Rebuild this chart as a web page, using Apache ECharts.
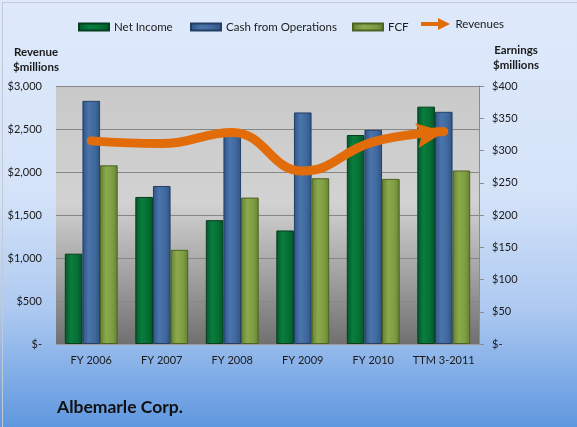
<!DOCTYPE html>
<html>
<head>
<meta charset="utf-8">
<title>Albemarle Corp.</title>
<script src="https://cdn.jsdelivr.net/npm/echarts@6/dist/echarts.min.js"></script>
<style>
  html, body { margin: 0; padding: 0; }
  #chart { width: 577px; height: 427px; }
</style>
</head>
<body>
<div id="chart"></div>
<script>
const categories = ["FY 2006", "FY 2007", "FY 2008", "FY 2009", "FY 2010", "TTM 3-2011"];
const netIncome = [140, 228, 192, 176, 324, 368];
const cashFromOps = [377, 245, 328, 359, 332, 360];
const fcf = [277, 146, 227, 257, 256, 269];
const revenues = [2362, 2331, 2460, 2011, 2350, 2470];
const revenueTicks = [0, 500, 1000, 1500, 2000, 2500, 3000];
const earningsTicks = [0, 50, 100, 150, 200, 250, 300, 350, 400];

const font = "Lato, 'Open Sans', sans-serif";
const textColor = "#1a1a1a";
const orange = "#e36c0a";
const arrowPath = "path://M0,0 L28,12.5 L0,25 L5,12.5 Z";

const money = (v) => (v === 0 ? "$-" : "$" + v.toLocaleString("en-US"));

const barFill = (dark, mid, light) =>
  new echarts.graphic.LinearGradient(0, 0, 1, 0, [
    { offset: 0, color: dark },
    { offset: 0.35, color: light },
    { offset: 0.7, color: mid },
    { offset: 1, color: dark },
  ]);

const barSeries = (name, data, dark, mid, light, border) => ({
  name,
  type: "bar",
  yAxisIndex: 1,
  data,
  barGap: "0%",
  barCategoryGap: "25%",
  itemStyle: {
    color: barFill(dark, mid, light),
    borderColor: border,
    borderWidth: 1,
  },
});

// one legend per entry so each sits where the reference has it
const legendAt = (name, left, extra) => ({
  data: [Object.assign({ name }, extra || {})],
  left,
  top: extra ? 18 : 21,
  padding: 0,
  itemWidth: 30,
  itemHeight: extra ? 12 : 7,
  icon: "rect",
  textStyle: { fontFamily: font, fontSize: 11.5, color: textColor },
});

const chart = echarts.init(document.getElementById("chart"));

// last revenue point carries the arrow head
const revenueData = revenues.map((v, i) =>
  i === revenues.length - 1
    ? {
        value: v,
        symbol: arrowPath,
        symbolSize: [28, 25],
        symbolRotate: 8,
        symbolOffset: [-13, 2],
      }
    : v
);

chart.setOption({
  animation: false,
  backgroundColor: new echarts.graphic.LinearGradient(0, 0, 0, 1, [
    { offset: 0, color: "#deeafb" },
    { offset: 0.45, color: "#d5e3f9" },
    { offset: 0.72, color: "#aecaf1" },
    { offset: 1, color: "#5f97df" },
  ]),
  textStyle: { fontFamily: font, color: textColor },
  title: {
    text: "Albemarle Corp.",
    left: 57,
    top: 398,
    padding: 0,
    textStyle: { fontFamily: font, fontSize: 17.5, fontWeight: "bold", color: "#111" },
  },
  legend: [
    legendAt("Net Income", 78),
    legendAt("Cash from Operations", 190),
    legendAt("FCF", 352),
    legendAt("Revenues", 421, { icon: "path://M0,4 L17,4 L17,0 L29,6 L17,12 L17,8 L0,8 Z" }),
  ],
  graphic: [
    {
      type: "rect",
      left: 0,
      top: 0,
      silent: true,
      shape: { width: 576, height: 426 },
      style: { fill: "none", stroke: "#c3cad6", lineWidth: 1 },
      z: 100,
    },
    {
      type: "text",
      left: 13,
      top: 45,
      style: {
        text: "Revenue\n$millions",
        font: "bold 11.5px " + font,
        fill: textColor,
        textAlign: "center",
        lineHeight: 15,
      },
    },
    {
      type: "text",
      left: 493,
      top: 43,
      style: {
        text: "Earnings\n$millions",
        font: "bold 11.5px " + font,
        fill: textColor,
        textAlign: "center",
        lineHeight: 15,
      },
    },
  ],
  grid: {
    left: 56,
    right: 98,
    top: 86,
    bottom: 83,
    show: true,
    borderWidth: 0,
    backgroundColor: new echarts.graphic.LinearGradient(0, 0, 0, 1, [
      { offset: 0, color: "#c9c9c9" },
      { offset: 0.45, color: "#d2d2d2" },
      { offset: 0.72, color: "#a4a4a4" },
      { offset: 1, color: "#707070" },
    ]),
  },
  xAxis: {
    type: "category",
    data: categories,
    axisLine: { lineStyle: { color: "#9a9a9a", width: 1 } },
    axisTick: { show: false },
    axisLabel: { fontFamily: font, fontSize: 11, color: textColor, margin: 11, interval: 0 },
  },
  yAxis: [
    {
      type: "value",
      min: revenueTicks[0],
      max: revenueTicks[revenueTicks.length - 1],
      interval: revenueTicks[1] - revenueTicks[0],
      axisLine: { show: false },
      axisTick: { show: false },
      splitLine: { lineStyle: { color: "#878787", width: 1 } },
      axisLabel: {
        fontFamily: font,
        fontSize: 11,
        color: textColor,
        margin: 14,
        formatter: money,
      },
    },
    {
      type: "value",
      position: "right",
      min: earningsTicks[0],
      max: earningsTicks[earningsTicks.length - 1],
      interval: earningsTicks[1] - earningsTicks[0],
      axisLine: { show: true, lineStyle: { color: "#8c8c8c" } },
      axisTick: { show: true, length: 5, lineStyle: { color: "#8c8c8c" } },
      splitLine: { show: false },
      axisLabel: {
        fontFamily: font,
        fontSize: 11,
        color: textColor,
        margin: 13,
        formatter: money,
      },
    },
  ],
  series: [
    barSeries("Net Income", netIncome, "#03562a", "#057034", "#0a7d3d", "#033f1e"),
    barSeries("Cash from Operations", cashFromOps, "#2f5384", "#40699e", "#4a74ab", "#233f66"),
    barSeries("FCF", fcf, "#62802f", "#7f9e43", "#8aaa4c", "#4c6322"),
    {
      name: "Revenues",
      type: "line",
      yAxisIndex: 0,
      data: revenueData,
      smooth: 0.45,
      symbol: "none",
      color: orange,
      lineStyle: { width: 9, color: orange, cap: "round", join: "round" },
      itemStyle: { color: orange },
      z: 5,
    },
  ],
});
</script>
</body>
</html>
